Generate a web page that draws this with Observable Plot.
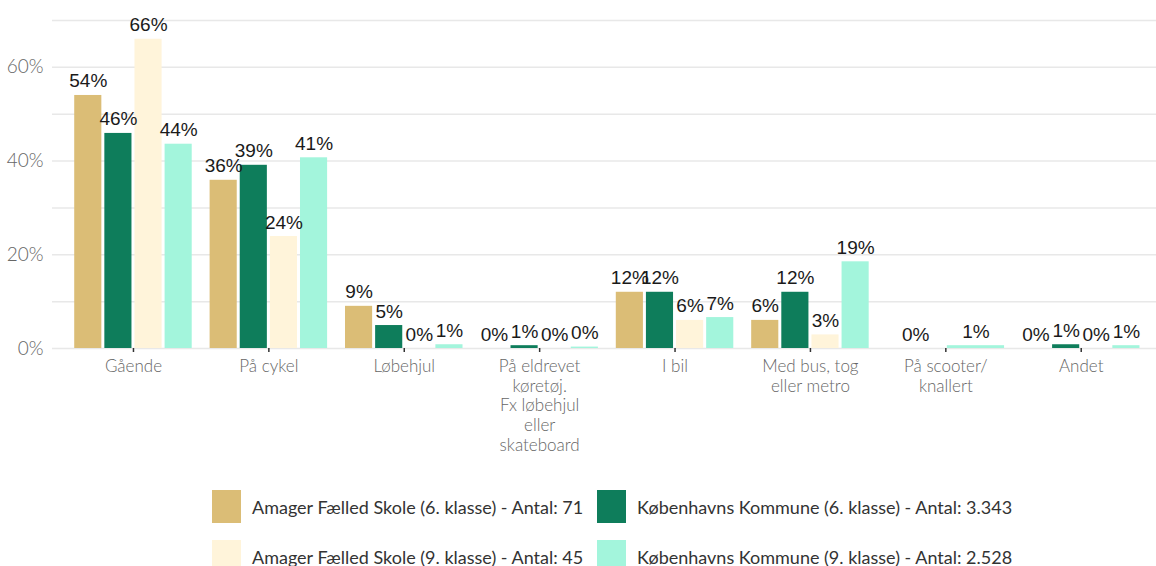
<!DOCTYPE html>
<html>
<head>
<meta charset="utf-8">
<script src="https://cdn.jsdelivr.net/npm/d3@7"></script>
<script src="https://cdn.jsdelivr.net/npm/@observablehq/plot@0.6"></script>
<style>
  html, body { margin: 0; padding: 0; background: #fff; }
  #chart svg { display: block; }
  .legend { font-family: Lato, "Open Sans", sans-serif; font-size: 18px; color: #333; padding-top: 30px; padding-left: 212px; }
  .legend .row { display: flex; height: 50px; }
  .legend .item { display: flex; align-items: flex-start; }
  .legend .item:first-child { width: 385px; }
  .legend .sw { width: 29px; height: 33px; margin-right: 11px; flex: none; }
  .legend .lab { line-height: 34px; white-space: nowrap; }
</style>
</head>
<body>
<div id="chart"></div>
<div class="legend" id="legend"></div>
<script>
const categories = [
  "Gående",
  "På cykel",
  "Løbehjul",
  "På eldrevet\nkøretøj.\nFx løbehjul\neller\nskateboard",
  "I bil",
  "Med bus, tog\neller metro",
  "På scooter/\nknallert",
  "Andet"
];
const seriesNames = [
  "Amager Fælled Skole (6. klasse) - Antal: 71",
  "Københavns Kommune (6. klasse) - Antal: 3.343",
  "Amager Fælled Skole (9. klasse) - Antal: 45",
  "Københavns Kommune (9. klasse) - Antal: 2.528"
];
const seriesColors = ["#dbbd76", "#0e7d5b", "#fff4da", "#a3f5dc"];
const amager6 = [54.0, 35.9, 9.0, 0,   12.0, 6.0,  0,    0];
const kbh6    = [45.9, 39.1, 4.9, 0.6, 12.0, 12.0, null, 0.8];
const amager9 = [66.0, 23.9, 0,   0,   6.0,  2.9,  null, 0];
const kbh9    = [43.6, 40.7, 0.8, 0.3, 6.6,  18.5, 0.6,  0.6];
const yTickValues = [0, 20, 40, 60];
const gridValues = [0, 10, 20, 30, 40, 50, 60, 70];

const seriesValues = [amager6, kbh6, amager9, kbh9];
const G = 0.89; // group width in category units
const rows = [];
categories.forEach((c, ci) => {
  const present = seriesValues.map((v, si) => ({si, v: v[ci]})).filter(d => d.v != null);
  const n = present.length;
  present.forEach((d, k) => {
    const x1 = ci - G / 2 + k * G / n;
    const x2 = x1 + G / n;
    rows.push({series: seriesNames[d.si], value: d.v, x1, x2, xm: (x1 + x2) / 2});
  });
});

const chart = Plot.plot({
  width: 1156,
  height: 460,
  marginLeft: 52,
  marginRight: 0,
  marginTop: 20,
  marginBottom: 112,
  style: {fontFamily: "Lato, 'Open Sans', sans-serif", fontSize: "18px", background: "#fff"},
  x: {domain: [-0.598, 7.556], axis: null},
  y: {domain: [0, 70], axis: null},
  color: {domain: seriesNames, range: seriesColors},
  marks: [
    Plot.ruleY(gridValues, {stroke: "#e8e8e8", strokeWidth: 1.5}),
    Plot.rectY(rows, {x1: "x1", x2: "x2", y: "value", fill: "series", insetLeft: 1.5, insetRight: 1.5}),
    Plot.text(rows, {
      x: "xm", y: "value",
      text: d => Math.round(d.value) + "%",
      lineAnchor: "bottom", dy: -8,
      fontSize: 19, fill: "#1a1a1a",
      fontFamily: "'Liberation Sans', Arial, sans-serif"
    }),
    Plot.axisX(d3.range(categories.length), {
      tickSize: 4, tickPadding: 6,
      tickFormat: i => categories[i],
      stroke: "#333", strokeWidth: 1.5,
      fill: "#666", fontSize: 17, lineHeight: 1.15, lineAnchor: "top",
      fontWeight: 300, label: null
    }),
    Plot.axisY(yTickValues, {
      tickSize: 0, tickPadding: 9,
      tickFormat: d => d + "%",
      fill: "#666", fontSize: 19, fontWeight: 300, label: null
    })
  ]
});
document.getElementById("chart").appendChild(chart);

const legend = document.getElementById("legend");
for (let r = 0; r < 2; r++) {
  const row = document.createElement("div");
  row.className = "row";
  [r === 0 ? 0 : 2, r === 0 ? 1 : 3].forEach(si => {
    const item = document.createElement("div");
    item.className = "item";
    const sw = document.createElement("div");
    sw.className = "sw";
    sw.style.background = seriesColors[si];
    const lab = document.createElement("div");
    lab.className = "lab";
    lab.textContent = seriesNames[si];
    item.appendChild(sw);
    item.appendChild(lab);
    row.appendChild(item);
  });
  legend.appendChild(row);
}
</script>
</body>
</html>
